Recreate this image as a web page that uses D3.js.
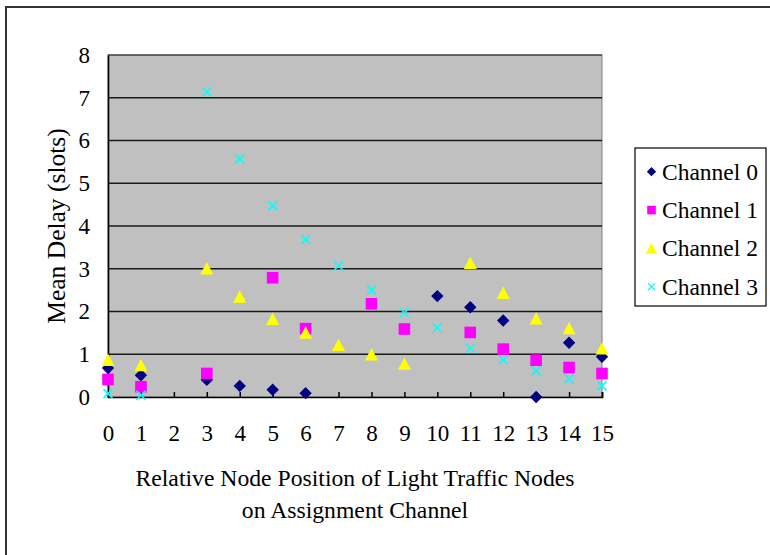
<!DOCTYPE html>
<html><head><meta charset="utf-8">
<script src="https://cdn.jsdelivr.net/npm/d3@7"></script>
<style>html,body{margin:0;padding:0;background:#fff;} svg{display:block;}</style>
</head><body>
<svg id="chart" width="770" height="555"></svg>
<script>
const positions = [0,1,2,3,4,5,6,7,8,9,10,11,12,13,14,15];
const yTicks = [0,1,2,3,4,5,6,7,8];
const seriesNames = ["Channel 0","Channel 1","Channel 2","Channel 3"];
const channel0 = [0.68,0.51,null,0.40,0.26,0.17,0.09,null,null,null,2.36,2.10,1.79,0.00,1.27,0.94];
const channel1 = [0.41,0.24,null,0.55,null,2.79,1.60,null,2.18,1.59,null,1.51,1.12,0.86,0.69,0.55];
const channel2 = [0.87,0.75,null,3.01,2.35,1.83,1.51,1.22,1.00,0.78,null,3.14,2.44,1.84,1.61,1.14];
const channel3 = [0.08,0.04,null,7.14,5.57,4.47,3.68,3.07,2.50,1.97,1.62,1.14,0.87,0.61,0.42,0.26];
const xTitleLines = ["Relative Node Position of Light Traffic Nodes","on Assignment Channel"];
const yTitle = "Mean Delay (slots)";

const svg = d3.select("#chart");
const font = "'Liberation Serif','Times New Roman',serif";
const L = 108, R = 602, T = 55, B = 397;
const x = d3.scaleLinear().domain([0,15]).range([L,R]);
const y = d3.scaleLinear().domain([0,8]).range([B,T]);

// outer frame
svg.append("rect").attr("x",6).attr("y",7).attr("width",780).attr("height",560)
  .attr("fill","#fff").attr("stroke","#333").attr("stroke-width",2);

// plot area
svg.append("rect").attr("x",L).attr("y",T).attr("width",R-L).attr("height",B-T)
  .attr("fill","#c0c0c0").attr("stroke","#808080").attr("stroke-width",1);

// gridlines
svg.append("g").selectAll("line").data(yTicks.filter(d=>d>0)).join("line")
  .attr("x1",L).attr("x2",R).attr("y1",d=>y(d)).attr("y2",d=>y(d))
  .attr("stroke","#1a1a1a").attr("stroke-width",d=>d===8?1:1.6);

// axes
const xAxis = d3.axisBottom(x).tickValues(positions).tickSize(-5).tickPadding(14).tickFormat(d3.format("d"));
const gx = svg.append("g").attr("transform",`translate(0,${B})`).call(xAxis);
gx.select(".domain").attr("stroke","#000").attr("stroke-width",1.6);
gx.selectAll(".tick line").attr("stroke","#000").attr("stroke-width",1.5);
gx.selectAll(".tick text").attr("font-family",font).attr("font-size",23).attr("fill","#000")
  .attr("y",44).attr("dy",0);

const yAxis = d3.axisLeft(y).tickValues(yTicks).tickSize(0).tickPadding(18).tickFormat(d3.format("d"));
const gy = svg.append("g").attr("transform",`translate(${L},0)`).call(yAxis);
gy.select(".domain").attr("stroke","#000").attr("stroke-width",1.6);
gy.selectAll(".tick text").attr("font-family",font).attr("font-size",23).attr("fill","#000");

// titles
svg.append("text").attr("transform",`translate(56,${(T+B)/2}) rotate(-90)`)
  .attr("text-anchor","middle").attr("dominant-baseline","central")
  .attr("font-family",font).attr("font-size",25.5).text(yTitle);
svg.append("g").selectAll("text").data(xTitleLines).join("text")
  .attr("x",(L+R)/2).attr("y",(d,i)=>486+i*32).attr("text-anchor","middle")
  .attr("font-family",font).attr("font-size",23.7).text(d=>d);

// marker paths
function markerPath(kind, s){
  const p = d3.path();
  if(kind==="diamond"){p.moveTo(0,-s);p.lineTo(s,0);p.lineTo(0,s);p.lineTo(-s,0);p.closePath();}
  else if(kind==="square"){p.rect(-s,-s,2*s,2*s);}
  else if(kind==="triangle"){p.moveTo(0,-s);p.lineTo(s*1.05,s);p.lineTo(-s*1.05,s);p.closePath();}
  else {p.moveTo(-s,-s);p.lineTo(s,s);p.moveTo(s,-s);p.lineTo(-s,s);}
  return p.toString();
}
const styles = [
  {kind:"diamond", color:"#000080", s:6.2, ls:4.6},
  {kind:"square", color:"#ff00ff", s:5.8, ls:4.3},
  {kind:"triangle", color:"#ffff00", s:6.2, ls:5.5},
  {kind:"x", color:"#00ffff", s:4.5, ls:3.6}
];
const allSeries = [channel0, channel1, channel2, channel3];

allSeries.forEach((vals,si)=>{
  const st = styles[si];
  const pts = positions.map((p,i)=>({p, v:vals[i]})).filter(d=>d.v!==null);
  const g = svg.append("g");
  g.selectAll("path").data(pts).join("path")
    .attr("transform",d=>`translate(${x(d.p)},${y(d.v)})`)
    .attr("d",markerPath(st.kind, st.s))
    .attr("fill",st.kind==="x"?"none":st.color)
    .attr("stroke",st.kind==="x"?st.color:"none")
    .attr("stroke-width",1.6);
});

// legend
const lg = svg.append("g");
lg.append("rect").attr("x",635).attr("y",148).attr("width",131).attr("height",158)
  .attr("fill","#fff").attr("stroke","#000").attr("stroke-width",1.2);
const ly = d3.scalePoint().domain(seriesNames).range([171.7,286.7]);
seriesNames.forEach((name,i)=>{
  const st = styles[i];
  lg.append("path").attr("transform",`translate(651.5,${ly(name)})`)
    .attr("d",markerPath(st.kind, st.ls))
    .attr("fill",st.kind==="x"?"none":st.color)
    .attr("stroke",st.kind==="x"?st.color:"none").attr("stroke-width",1.3);
  lg.append("text").attr("x",662).attr("y",ly(name)).attr("dominant-baseline","central")
    .attr("font-family",font).attr("font-size",23.5).text(name);
});
</script>
</body></html>
